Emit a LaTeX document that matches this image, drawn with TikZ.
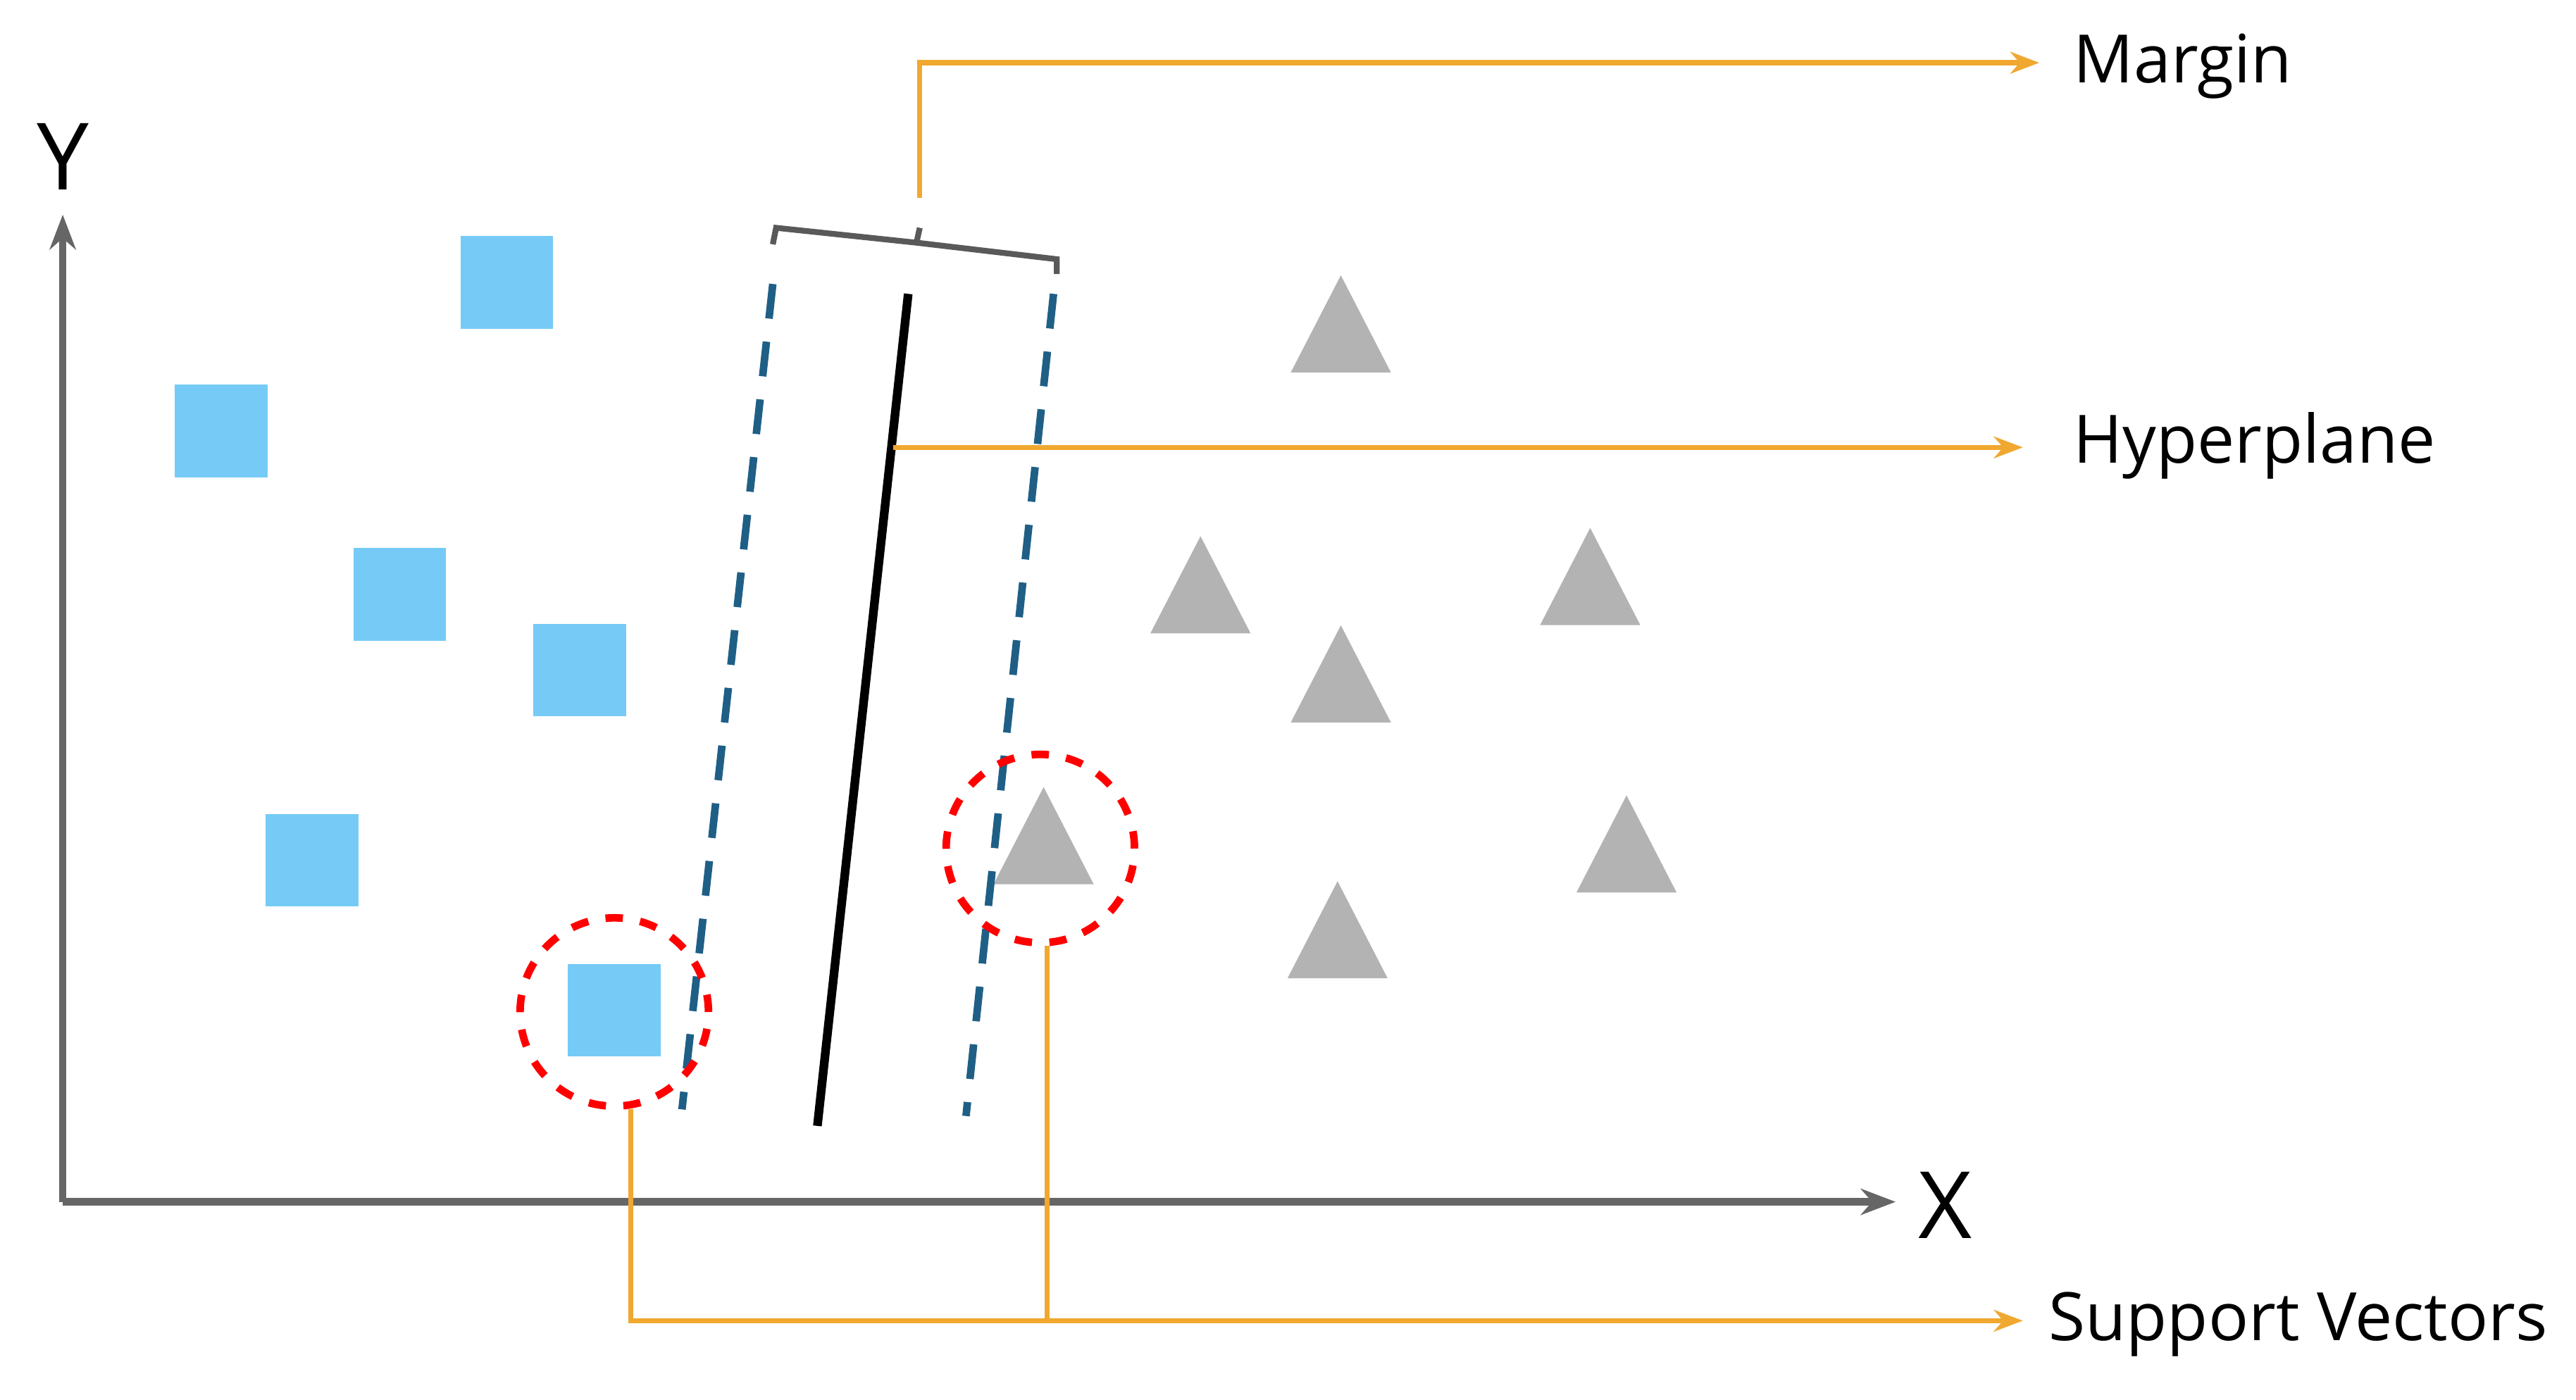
\documentclass[tikz,border=0pt]{standalone}
\usepackage{fontspec}
\setmainfont{Open Sans}
\usetikzlibrary{shapes.geometric,arrows.meta}
\definecolor{sqblue}{HTML}{75CBF5}
\definecolor{trigray}{HTML}{B3B3B3}
\definecolor{dashblue}{HTML}{1F5F86}
\definecolor{callout}{HTML}{F0A830}
\tikzset{sq/.style={fill=sqblue,minimum size=0.56cm,inner sep=0pt},
    tri/.style={regular polygon,regular polygon sides=3,fill=trigray,minimum size=0.7cm,yscale=1.12,inner sep=0pt},
    margline/.style={dashblue,line width=1.3pt,dash pattern=on 6pt off 4pt},
    svring/.style={circle,draw=red,dashed,line width=1.3pt,minimum size=1.14cm},
    lead/.style={callout,line width=0.9pt},
    label/.style={anchor=west,inner sep=2pt,font=\fontsize{11.5pt}{14pt}\selectfont}}
\begin{document}
\begin{tikzpicture}[x=0.01cm,y=-0.01cm]
\useasboundingbox (0,0) rectangle (1560,848);
% axes
\coordinate (o) at (38,728);
\coordinate (ytop) at (38,130);
\coordinate (xend) at (1148,728);
\draw[gray!80!black,line width=1.3pt,-{Stealth[length=6pt]}] (o) -- (ytop);
\draw[gray!80!black,line width=1.3pt,-{Stealth[length=6pt]}] (o) -- (xend);
\node[font=\fontsize{16pt}{18pt}\selectfont] (ylab) at (38,95) {Y};
\node[font=\fontsize{16pt}{18pt}\selectfont] (xlab) at (1178,730) {X};
% squares
\node[sq] (s1) at (307,171) {};
\node[sq] (s2) at (134,261) {};
\node[sq] (s3) at (242,360) {};
\node[sq] (s4) at (351,406) {};
\node[sq] (s5) at (189,521) {};
\node[sq] (s6) at (372,612) {};
% triangles
\node[tri] (t1) at (812,206) {};
\node[tri] (t2) at (727,364) {};
\node[tri] (t3) at (963,359) {};
\node[tri] (t4) at (812,418) {};
\node[tri] (t5) at (632,516) {};
\node[tri] (t6) at (985,521) {};
\node[tri] (t7) at (810,573) {};
% hyperplane and margins
\coordinate (la) at (468,172); \coordinate (lb) at (413,672);
\coordinate (ra) at (638,178); \coordinate (rb) at (585,676);
\coordinate (ha) at (550,178); \coordinate (hb) at (495,682);
\draw[margline] (la) -- (lb);
\draw[margline] (ra) -- (rb);
\draw[black,line width=1.5pt] (ha) -- (hb);
% brace
\draw[gray!70!black,line width=1pt] (468,148) -- (470,138) -- (555,147) -- (640,157) -- (640,166)
    (555,147) -- (557,138);
% support vector rings
\node[svring] (c1) at (372,613) {};
\node[svring] (c2) at (630,514) {};
% labels
\node[label] (margin) at (1248,40) {Margin};
\node[label] (hyper) at (1248,270) {Hyperplane};
\node[label] (svec) at (1233,802) {Support Vectors};
\draw[lead,-{Stealth[length=5pt]}] (557,120) |- (1235,38);
\draw[lead,-{Stealth[length=5pt]}] (541,271) -- (1225,271);
\draw[lead,-{Stealth[length=5pt]}] (382,672) |- (1225,800);
\draw[lead] (634,573) -- (634,800);
\end{tikzpicture}
\end{document}
